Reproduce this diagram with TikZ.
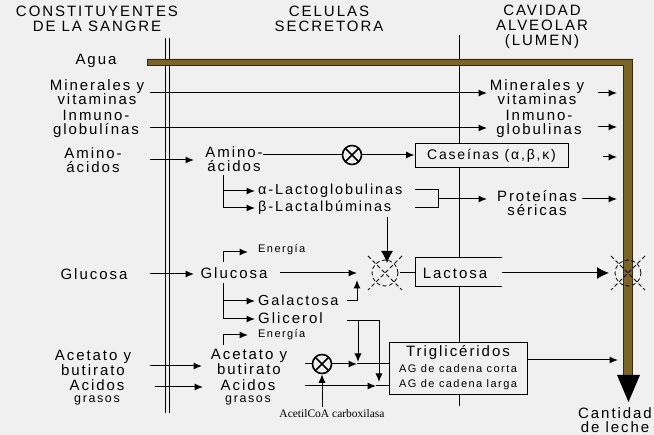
\documentclass[tikz,border=0pt]{standalone}
\usepackage{fontspec}
\setmainfont{Liberation Sans}
\newfontfamily\lsf[LetterSpace=13]{Liberation Sans}
\newfontfamily\serifF{Liberation Serif}
\usetikzlibrary{arrows.meta}
\definecolor{bg}{RGB}{240,240,240}
\definecolor{band}{RGB}{122,100,38}
\definecolor{bandedge}{RGB}{55,40,15}
\tikzset{
  lbl/.style={inner sep=0, align=center, font=\lsf\fontsize{15}{14}\selectfont},
  hdr/.style={inner sep=0, align=center, font=\lsf\fontsize{15}{15}\selectfont},
  mid/.style={inner sep=0, align=center, font=\lsf\fontsize{14.5}{13}\selectfont},
  sml/.style={inner sep=0, font=\lsf\fontsize{11}{12}\selectfont},
  ln/.style={line width=1pt},
  arr/.style={ln, -{Latex[length=8.5pt,width=7pt]}},
  bigarr/.style={ln, -{Latex[length=12pt,width=12pt]}},
  boxed/.style={ln, fill=bg},
  enz/.style={circle, draw, line width=1.6pt, fill=bg, minimum size=19pt, inner sep=0,
    path picture={\draw[line width=1.6pt] (path picture bounding box.north west) -- (path picture bounding box.south east)
      (path picture bounding box.north east) -- (path picture bounding box.south west);}},
  blk/.style={line width=0.8pt, dash pattern=on 4pt off 2.5pt}
}
\newcommand{\smallline}[1]{{\fontsize{12.5}{12}\selectfont #1}}
\begin{document}
\begin{tikzpicture}[x=1pt,y=-1pt]
\useasboundingbox (0,0) rectangle (654,435);
\fill[bg] (0,0) rectangle (654,435);

% headers
\node[hdr] (hL) at (97,19) {CONSTITUYENTES\\DE LA SANGRE};
\node[hdr] (hM) at (329,19) {CELULAS\\SECRETORA};
\node[hdr] (hR) at (542,27) {CAVIDAD\\ALVEOLAR\\(LUMEN)};

% membranes
\coordinate (d1t) at (165,38); \coordinate (d1b) at (165,413);
\coordinate (d2t) at (169,38); \coordinate (d2b) at (169,413);
\draw[ln] (d1t) -- (d1b) (d2t) -- (d2b);
\coordinate (mt) at (459,35); \coordinate (mb) at (459,406);
\draw[ln] (mt) -- (mb);

% water band
\filldraw[fill=band, draw=bandedge, line width=0.8pt]
  (147,59) -- (632.5,59) -- (632.5,376) -- (623.5,376) -- (623.5,65) -- (147,65) -- cycle;
\fill (617,375) -- (640,375) -- (628.5,402) -- cycle;
\node[lbl] (agua) at (96,61) {Agua};
\node[lbl] (cant) at (615,420) {Cantidad\\de leche};

% minerales
\node[lbl] (minL) at (97,92) {Minerales y\\vitaminas};
\node[lbl] (minR) at (537,92) {Minerales y\\vitaminas};
\coordinate (m0) at (150,93); \coordinate (m1) at (487,93);
\draw[arr] (m0) -- (m1);
\coordinate (m2) at (598,93); \coordinate (m3) at (617,93);
\draw[arr] (m2) -- (m3);

% inmunoglobulinas
\node[lbl] (inmL) at (96,124) {Inmuno-\\globulínas};
\node[lbl] (inmR) at (539,124) {Inmuno-\\globulinas};
\coordinate (i0) at (150,128); \coordinate (i1) at (487,128);
\draw[arr] (i0) -- (i1);
\coordinate (i2) at (598,127); \coordinate (i3) at (617,127);
\draw[arr] (i2) -- (i3);

% aminoacidos
\node[lbl] (amiL) at (93,160) {Amino-\\ácidos};
\node[lbl] (amiM) at (234,159) {Amino-\\ácidos};
\coordinate (a0) at (150,160); \coordinate (a1) at (194,160);
\draw[arr] (a0) -- (a1);
\node[enz] (x1) at (352,155) {};
\node[draw, boxed, minimum width=153pt, minimum height=24pt, inner sep=0, font=\lsf\fontsize{14}{12}\selectfont] (cas) at (491.5,156) {Caseínas (α,β,κ)};
\coordinate (a2) at (263,155);
\draw[ln] (a2) -- (x1);
\draw[arr] (x1) -- (cas.west |- x1);
\coordinate (c1) at (603,157); \coordinate (c2) at (617,157);
\draw[arr] (c1) -- (c2);

\coordinate (v1t) at (223,175); \coordinate (v1a) at (223,191); \coordinate (v1b) at (223,208);
\coordinate (v1ae) at (255,191); \coordinate (v1be) at (255,208);
\draw[ln] (v1t) -- (v1b);
\draw[arr] (v1a) -- (v1ae);
\draw[arr] (v1b) -- (v1be);
\node[mid, anchor=west] (alfa) at (258,191) {α-Lactoglobulinas};
\node[mid, anchor=west] (beta) at (258,208) {β-Lactalbúminas};
\coordinate (b1) at (415,190); \coordinate (b2) at (438,190);
\coordinate (b3) at (438,208); \coordinate (b4) at (415,208);
\draw[ln] (b1) -- (b2) -- (b3) -- (b4);
\coordinate (b5) at (438,199); \coordinate (b6) at (487,199);
\draw[arr] (b5) -- (b6);
\node[lbl] (prot) at (537,203) {Proteínas\\séricas};
\coordinate (p1) at (582,199); \coordinate (p2) at (617,199);
\draw[arr] (p1) -- (p2);
\coordinate (dn1) at (387,217); \coordinate (dn2) at (387,263);
\draw[bigarr] (dn1) -- (dn2);

% glucosa
\node[lbl] (gluL) at (94,274) {Glucosa};
\node[lbl] (gluM) at (234,273) {Glucosa};
\coordinate (g0) at (150,274); \coordinate (g1) at (194,274);
\draw[arr] (g0) -- (g1);
\coordinate (g2) at (280,273); \coordinate (g3) at (357,273);
\draw[arr] (g2) -- (g3);
\coordinate (bx1) at (385,273);
\draw[blk] (bx1) circle (13pt);
\draw[blk] (368,256) -- (402,290) (402,256) -- (368,290);
\coordinate (g4) at (400,273);
\coordinate (lc1) at (502,258); \coordinate (lc2) at (415,258);
\coordinate (lc3) at (415,287); \coordinate (lc4) at (502,287);
\fill[bg] (lc1) rectangle (lc3);
\draw[ln] (lc1) -- (lc2) -- (lc3) -- (lc4);
\node[lbl] (lac) at (455,273) {Lactosa};
\draw[ln] (g4) -- (lc2 |- g4);
\coordinate (l1) at (502,273); \coordinate (l2) at (609,273);
\draw[bigarr] (l1) -- (l2);
\coordinate (bx2) at (628,273);
\draw[blk] (bx2) circle (13pt);
\draw[blk] (611,256) -- (645,290) (645,256) -- (611,290);

\coordinate (e1a) at (223,262); \coordinate (e1b) at (223,252); \coordinate (e1c) at (248,252);
\draw[arr] (e1a) -- (e1b) -- (e1c);
\node[sml, anchor=west] (ene1) at (258,250) {Energía};
\coordinate (v2t) at (223,283); \coordinate (v2a) at (223,301); \coordinate (v2b) at (223,319);
\coordinate (v2ae) at (255,301); \coordinate (v2be) at (255,319);
\draw[ln] (v2t) -- (v2b);
\draw[arr] (v2a) -- (v2ae);
\draw[arr] (v2b) -- (v2be);
\node[mid, anchor=west] (gal) at (258,300) {Galactosa};
\node[lbl, anchor=west] (glic) at (258,318) {Glicerol};
\coordinate (ga1) at (347,301); \coordinate (ga2) at (357,301); \coordinate (ga3) at (357,280);
\draw[arr] (ga1) -- (ga2) -- (ga3);
\coordinate (gl1) at (347,321); \coordinate (gl2) at (380,321);
\draw[ln] (gl1) -- (gl2);
\coordinate (gl3) at (358,321); \coordinate (gl4) at (358,362);
\coordinate (gl5) at (379,321); \coordinate (gl6) at (379,382);
\draw[arr] (gl3) -- (gl4);
\draw[arr] (gl5) -- (gl6);

% acetato
\coordinate (e2a) at (223,345); \coordinate (e2b) at (223,335); \coordinate (e2c) at (248,335);
\draw[arr] (e2a) -- (e2b) -- (e2c);
\node[sml, anchor=west] (ene2) at (258,335) {Energía};
\node[lbl, font=\lsf\fontsize{15}{13}\selectfont] (aceL) at (93,363) {Acetato y\\butirato};
\node[lbl, font=\lsf\fontsize{15}{13}\selectfont] (aceM) at (249,362) {Acetato y\\butirato};
\coordinate (ac0) at (150,366); \coordinate (ac1) at (202,366);
\draw[arr] (ac0) -- (ac1);
\node[enz] (x2) at (322,364) {};
\coordinate (ac2) at (305,364);
\draw[ln] (ac2) -- (x2);
\coordinate (ac3) at (357,364);
\draw[arr] (x2) -- (ac3);

\node[lbl, font=\lsf\fontsize{15}{12}\selectfont] (agL) at (97,392) {Acidos\\\smallline{grasos}};
\node[lbl, font=\lsf\fontsize{15}{12}\selectfont] (agM) at (248,392) {Acidos\\\smallline{grasos}};
\coordinate (ag0) at (155,387); \coordinate (ag1) at (203,387);
\draw[arr] (ag0) -- (ag1);
\coordinate (ag2) at (305,386); \coordinate (ag3) at (376,386);
\draw[arr] (ag2) -- (ag3);

% trigliceridos
\node[draw, boxed, minimum width=138pt, minimum height=52pt, inner sep=0] (trig) at (458,369) {};
\node[lbl] (tr1) at (458,353) {Triglicéridos};
\node[sml] (tr2) at (458,369) {AG de cadena corta};
\node[sml] (tr3) at (458,385) {AG de cadena larga};
\draw[ln] (ac3) -- (trig.west |- ac3);
\draw[ln] (ag3) -- (trig.west |- ag3);
\coordinate (t1) at (618,360);
\draw[arr] (trig.east |- t1) -- (t1);

\node[inner sep=0, font=\serifF\fontsize{11.5}{12}\selectfont] (acc) at (332,414) {AcetilCoA carboxilasa};
\coordinate (acc1) at (322,407);
\draw[arr] (acc1) -- (x2);
\end{tikzpicture}
\end{document}
